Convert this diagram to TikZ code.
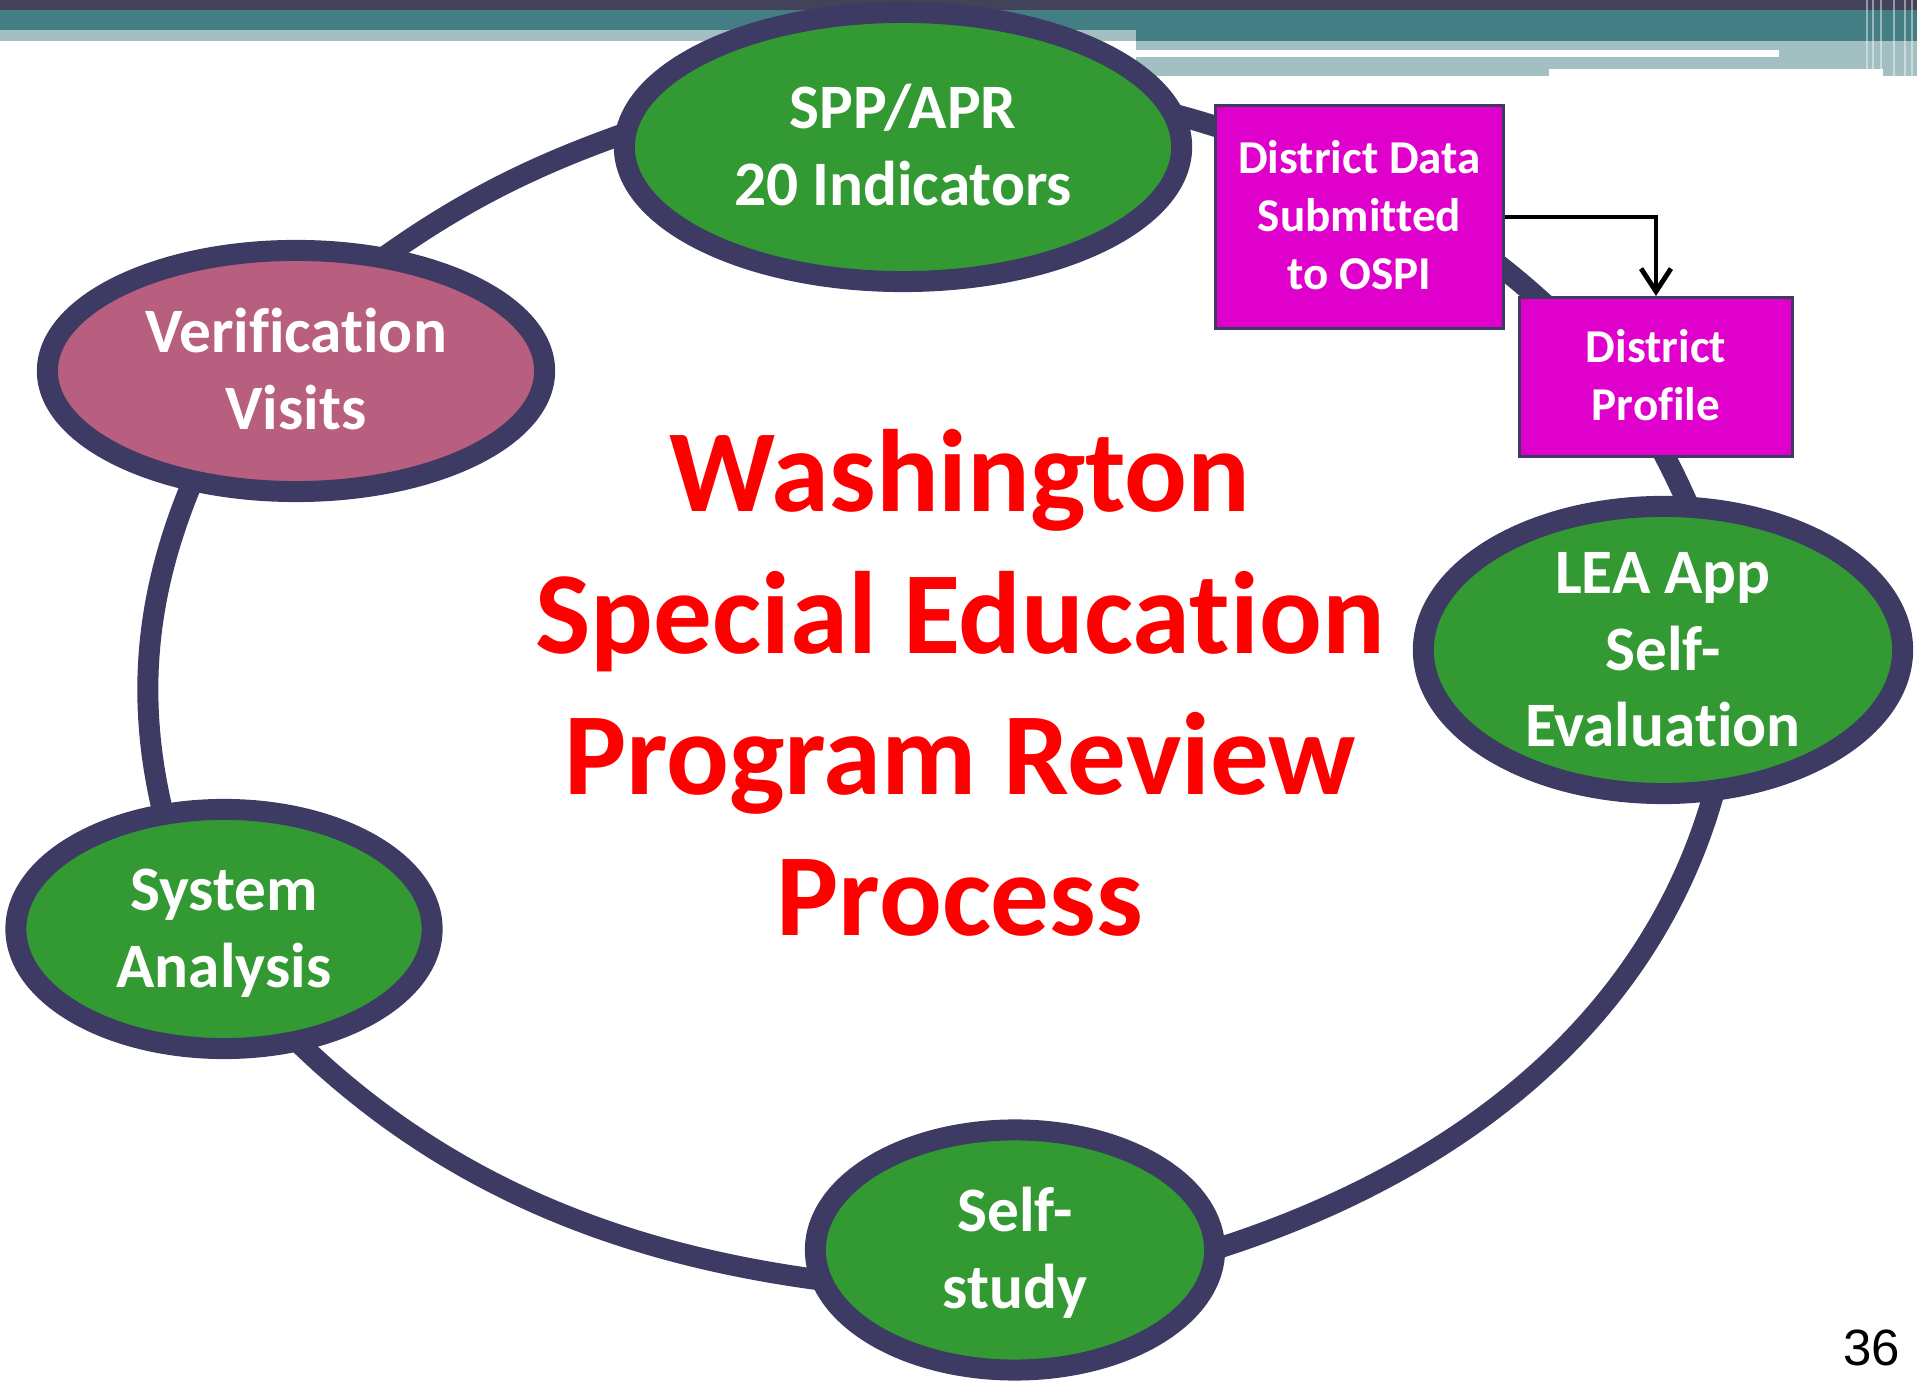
\documentclass[tikz,border=0pt]{standalone}
\usepackage{fontspec}
\setmainfont{Carlito}[Ligatures={NoCommon}]
\newfontfamily\pagenumfont{Liberation Sans}
\usetikzlibrary{shapes.geometric,arrows.meta}
\pgfdeclarelayer{background}
\pgfsetlayers{background,main}
\definecolor{navy}{RGB}{61,59,99}
\definecolor{ovgreen}{RGB}{51,153,51}
\definecolor{ovrose}{RGB}{184,94,126}
\definecolor{boxmag}{RGB}{224,0,204}
\definecolor{hdark}{RGB}{66,67,88}
\definecolor{hteal}{RGB}{67,126,132}
\definecolor{hlight}{RGB}{162,191,194}
\begin{document}
\begin{tikzpicture}[x=0.01cm,y=0.01cm,
  oval/.style={ellipse, draw=navy, line width=0.21cm, inner sep=0pt, text=white,
    font=\bfseries\fontsize{18pt}{21.7pt}\selectfont, align=center, text depth=0pt},
  twolines/.style={text height=33.1pt},
  threelines/.style={text height=54.8pt},
  pbox/.style={rectangle, draw=navy, line width=1pt, fill=boxmag, inner sep=0pt, text=white,
    font=\bfseries\fontsize{13.4pt}{16.5pt}\selectfont, align=center, text depth=0pt},
  ring/.style={draw=navy, line width=0.21cm, shorten <=-0.25cm, shorten >=-0.25cm},
  arrowline/.style={draw=black, line width=1.4pt, -{Straight Barb[length=6.5pt,width=8.5pt,line width=1.4pt]}},
  titletext/.style={font=\bfseries\fontsize{33.3pt}{40.2pt}\selectfont, text=red, align=center, inner sep=0pt}
]
\begin{pgfonlayer}{background}
\fill[white] (0,0) rectangle (1917,-1383);
\fill[hdark] (0,0) rectangle (1917,-10);
\fill[hteal] (0,-10) rectangle (1917,-30);
\fill[hteal] (1136,-30) rectangle (1917,-41);
\fill[hlight] (0,-30) rectangle (1136,-41);
\fill[hlight] (1136,-41) rectangle (1917,-76);
\fill[white] (1136,-50) rectangle (1779,-57);
\fill[white] (1549,-69) rectangle (1883,-76);
\foreach \xx in {1866,1872,1880,1893,1904,1911}
  \fill[white,opacity=0.45] (\xx,0) rectangle ++(2,-76);
\end{pgfonlayer}

\node[oval, twolines, fill=ovgreen, minimum width=5.57cm, minimum height=2.69cm] (spp) at (903,-147) {SPP/APR\\20 Indicators};
\node[oval, twolines, fill=ovrose, minimum width=4.97cm, minimum height=2.41cm] (ver) at (296,-371) {Verification\\Visits};
\node[oval, threelines, fill=ovgreen, minimum width=4.79cm, minimum height=2.87cm] (lea) at (1663,-650) {LEA App\\Self-\\Evaluation};
\node[oval, twolines, fill=ovgreen, minimum width=4.16cm, minimum height=2.39cm] (sys) at (224,-929) {System\\Analysis};
\node[oval, twolines, fill=ovgreen, minimum width=3.99cm, minimum height=2.40cm] (self) at (1015,-1250) {Self-\\study};

\node[pbox, minimum width=2.875cm, minimum height=2.225cm, text height=41.5pt] (dd) at (1359.5,-217) {District Data\\Submitted\\to OSPI};
\node[pbox, minimum width=2.725cm, minimum height=1.585cm, text height=25pt] (dp) at (1656,-377) {District\\Profile};

\node[titletext, text height=141.5pt, text depth=0pt] (title) at (960,-687) {Washington\\Special Education\\Program Review\\Process};

\node[font=\pagenumfont\fontsize{14.5pt}{17pt}\selectfont, anchor=base east, inner sep=0pt] (pnum) at (1901,-1366) {36};

\draw[arrowline] (dd.east) -| (dp.north);

\begin{pgfonlayer}{background}
\draw[ring, looseness=0.86] (spp.178) to[out=199, in=36] (ver.51);
\draw[ring, looseness=0.87] (ver.228) to[out=246, in=105] (sys.117);
\draw[ring, looseness=0.88] (sys.304) to[out=315, in=173] (self.188);
\draw[ring, looseness=0.9] (self.1) to[out=17, in=256] (lea.288);
\draw[ring] (lea.82) to[out=114, in=298] (dp.277);
\draw[ring] (dp.146) to[out=138, in=322] (dd.340);
\draw[ring] (dd.148) to[out=164, in=346] (spp.6);
\end{pgfonlayer}
\end{tikzpicture}
\end{document}
